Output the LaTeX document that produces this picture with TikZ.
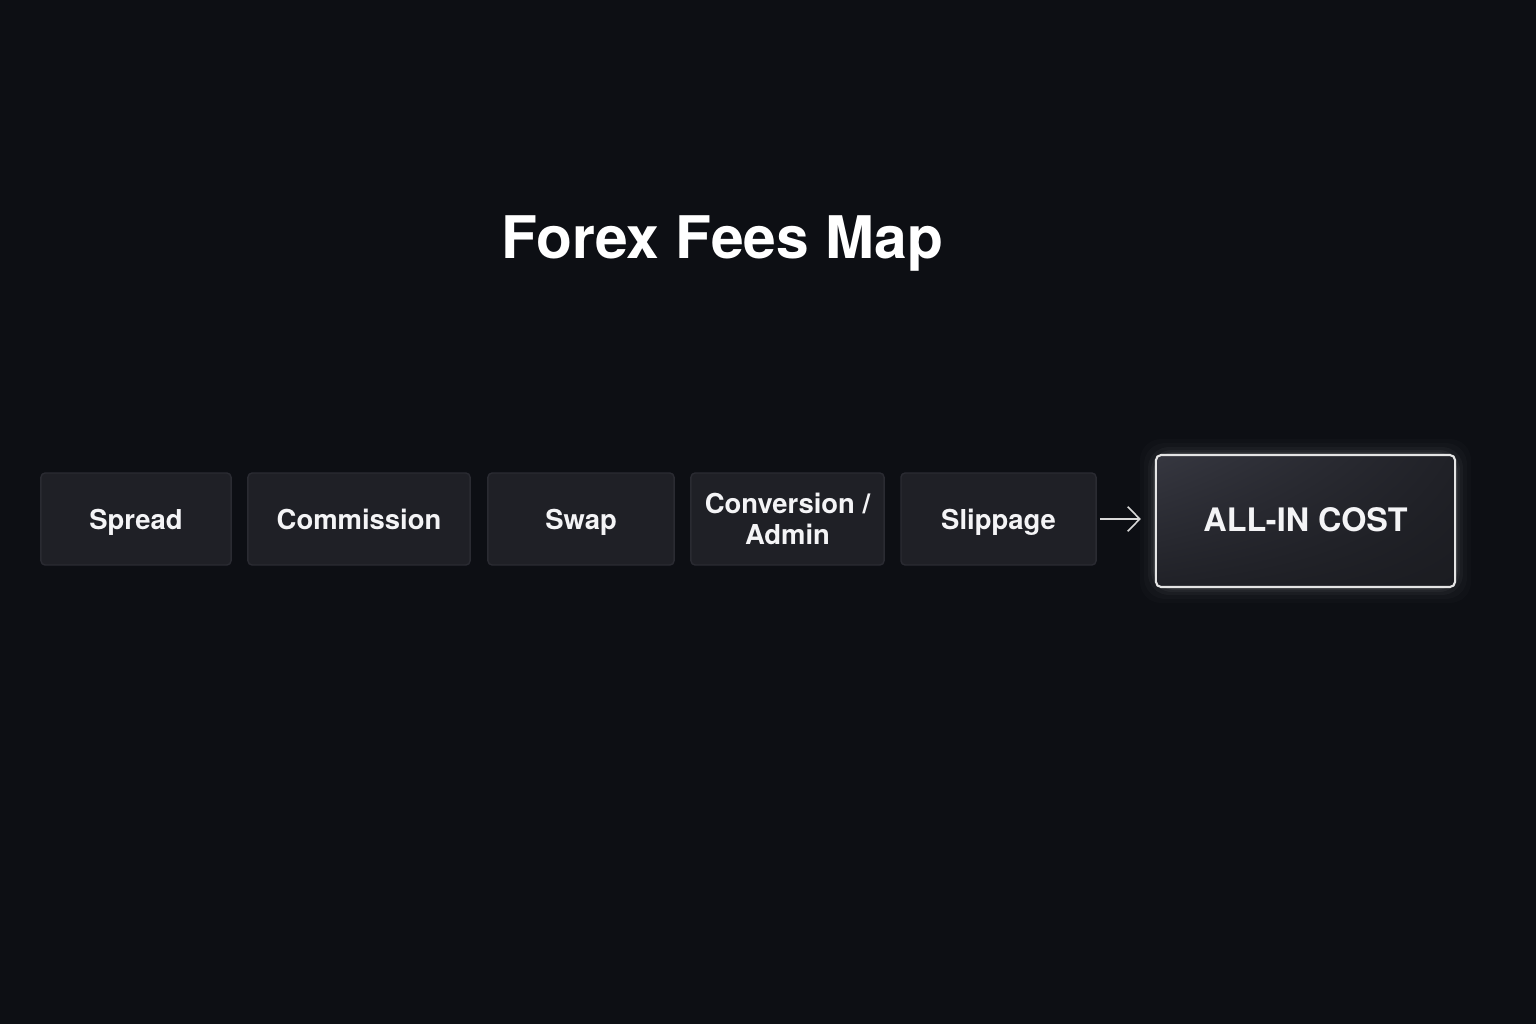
\documentclass[tikz,border=0pt]{standalone}
\usepackage{fontspec}
\setmainfont{TeX Gyre Heros}
\usetikzlibrary{arrows.meta,shadings}
\definecolor{bg}{HTML}{0D0F14}
\definecolor{boxfill}{HTML}{1F2026}
\definecolor{boxline}{HTML}{2A2B32}
\definecolor{finA}{HTML}{363740}
\definecolor{finB}{HTML}{202127}
\definecolor{finC}{HTML}{1B1C21}
\definecolor{txt}{HTML}{F4F4F6}
\tikzset{
  fee/.style={draw=boxline, line width=0.4pt, fill=boxfill, rounded corners=1.2pt,
    minimum height=0.92cm, text=txt, align=center, inner sep=0pt,
    font=\fontsize{7.8}{9}\selectfont\bfseries},
  one/.style={text height=1.55ex, text depth=0.45ex},
  total/.style={draw=white!90!black, line width=0.6pt, rounded corners=1.5pt,
    upper left=finA, upper right=finB, lower left=finB, lower right=finC,
    minimum width=2.99cm, minimum height=1.32cm,
    text=txt, inner sep=0pt, text height=1.55ex, text depth=0.45ex,
    font=\fontsize{9.2}{11}\selectfont\bfseries},
  link/.style={draw=white!85!black, line width=0.45pt, -{Straight Barb[length=3.4pt,width=7pt]}}
}
\begin{document}
\begin{tikzpicture}[x=0.01cm,y=-0.01cm]
\fill[bg] (0,0) rectangle (1536,1024);
\useasboundingbox (0,0) rectangle (1536,1024);
\node[text=white, font=\fontsize{16.7}{20}\selectfont\bfseries] (title) at (722,243) {Forex Fees Map};
\node[fee, one, minimum width=1.90cm] (spread) at (136,519) {Spread};
\node[fee, one, minimum width=2.22cm] (comm) at (359,519) {Commission};
\node[fee, one, minimum width=1.86cm] (swap) at (581,519) {Swap};
\node[fee, minimum width=1.93cm] (conv) at (787.5,519) {Conversion /\\Admin};
\node[fee, one, minimum width=1.95cm] (slip) at (998.5,519) {Slippage};
% glow
\foreach \g/\o in {16/0.015,12/0.02,8/0.03,5/0.04,3/0.05}{
  \fill[white, opacity=\o, rounded corners=6pt] (1156-\g,455-\g) rectangle (1455+\g,587+\g);
}
\node[total] (all) at (1305.5,521) {ALL-IN COST};
\draw[link] ([xshift=0.03cm]slip.east) -- ([xshift=-0.14cm]slip.east -| all.west);
\end{tikzpicture}
\end{document}
